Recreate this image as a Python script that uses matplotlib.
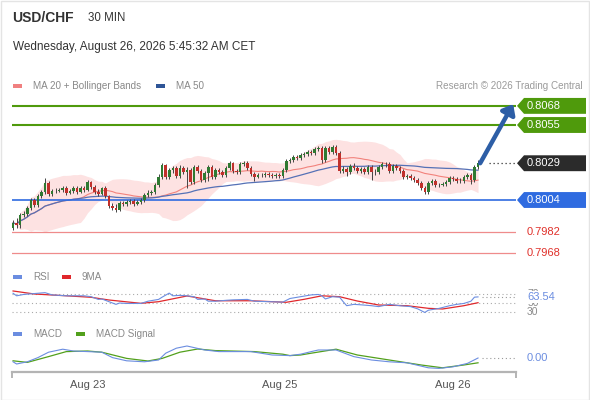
import matplotlib
matplotlib.use("Agg")
import matplotlib.pyplot as plt
from matplotlib.patches import Polygon, Rectangle
from matplotlib.transforms import blended_transform_factory
import numpy as np
import pandas as pd

plt.rcParams['font.family'] = ['Liberation Sans', 'DejaVu Sans']

# ---------------- data ----------------
symbol = "USD/CHF"
timeframe = "30 MIN"
timestamp = "Wednesday, August 26, 2026 5:45:32 AM CET"
credit = "Research \u00a9 2026 Trading Central"

first_open = 0.79850
close = [0.79884, 0.79870, 0.79938, 0.79945, 0.79986, 0.80040, 0.80006, 0.80067, 0.80094, 0.80156,
         0.80081, 0.80101, 0.80101, 0.80108, 0.80122, 0.80088, 0.80101, 0.80122, 0.80094, 0.80122,
         0.80108, 0.80162, 0.80128, 0.80094, 0.80081, 0.80122, 0.80067, 0.79999, 0.79986, 0.79972,
         0.80020, 0.80013, 0.80026, 0.80033, 0.80013, 0.80026, 0.80040, 0.80074, 0.80088, 0.80094,
         0.80142, 0.80196, 0.80278, 0.80196, 0.80244, 0.80258, 0.80203, 0.80258, 0.80230, 0.80244,
         0.80162, 0.80264, 0.80237, 0.80176, 0.80224, 0.80264, 0.80196, 0.80244, 0.80230, 0.80210,
         0.80258, 0.80292, 0.80237, 0.80230, 0.80285, 0.80292, 0.80258, 0.80217, 0.80196, 0.80210,
         0.80210, 0.80217, 0.80210, 0.80203, 0.80210, 0.80203, 0.80244, 0.80305, 0.80312, 0.80332,
         0.80326, 0.80346, 0.80353, 0.80366, 0.80360, 0.80387, 0.80394, 0.80312, 0.80394, 0.80366,
         0.80400, 0.80360, 0.80237, 0.80251, 0.80230, 0.80271, 0.80258, 0.80237, 0.80251, 0.80230,
         0.80264, 0.80230, 0.80230, 0.80264, 0.80285, 0.80285, 0.80237, 0.80271, 0.80258, 0.80237,
         0.80196, 0.80203, 0.80190, 0.80176, 0.80156, 0.80122, 0.80094, 0.80156, 0.80169, 0.80142,
         0.80142, 0.80149, 0.80162, 0.80190, 0.80183, 0.80169, 0.80169, 0.80196, 0.80210, 0.80176,
         0.80264, 0.80290]
high = [0.79904, 0.79918, 0.79952, 0.79965, 0.79999, 0.80054, 0.80054, 0.80081, 0.80108, 0.80190,
        0.80169, 0.80115, 0.80122, 0.80122, 0.80135, 0.80135, 0.80115, 0.80135, 0.80135, 0.80135,
        0.80135, 0.80176, 0.80169, 0.80142, 0.80115, 0.80128, 0.80135, 0.80074, 0.80020, 0.80013,
        0.80033, 0.80033, 0.80040, 0.80047, 0.80047, 0.80040, 0.80054, 0.80088, 0.80108, 0.80108,
        0.80156, 0.80217, 0.80292, 0.80285, 0.80258, 0.80271, 0.80271, 0.80278, 0.80271, 0.80264,
        0.80258, 0.80278, 0.80278, 0.80251, 0.80237, 0.80278, 0.80278, 0.80258, 0.80258, 0.80244,
        0.80271, 0.80305, 0.80298, 0.80251, 0.80298, 0.80305, 0.80305, 0.80271, 0.80230, 0.80224,
        0.80224, 0.80230, 0.80230, 0.80224, 0.80224, 0.80224, 0.80258, 0.80319, 0.80326, 0.80346,
        0.80346, 0.80360, 0.80366, 0.80380, 0.80380, 0.80400, 0.80407, 0.80407, 0.80407, 0.80407,
        0.80414, 0.80414, 0.80373, 0.80271, 0.80264, 0.80285, 0.80292, 0.80271, 0.80264, 0.80264,
        0.80278, 0.80278, 0.80251, 0.80278, 0.80298, 0.80298, 0.80298, 0.80285, 0.80285, 0.80271,
        0.80251, 0.80217, 0.80217, 0.80203, 0.80190, 0.80169, 0.80135, 0.80169, 0.80183, 0.80183,
        0.80156, 0.80162, 0.80176, 0.80203, 0.80203, 0.80196, 0.80190, 0.80210, 0.80224, 0.80224,
        0.80278, 0.80312]
low = [0.79836, 0.79850, 0.79850, 0.79924, 0.79931, 0.79972, 0.79992, 0.79992, 0.80054, 0.80081,
       0.80067, 0.80067, 0.80088, 0.80094, 0.80094, 0.80074, 0.80081, 0.80088, 0.80081, 0.80088,
       0.80094, 0.80101, 0.80115, 0.80081, 0.80067, 0.80074, 0.80054, 0.79986, 0.79972, 0.79958,
       0.79965, 0.79999, 0.79999, 0.80013, 0.79999, 0.80006, 0.80013, 0.80026, 0.80060, 0.80074,
       0.80081, 0.80128, 0.80183, 0.80183, 0.80183, 0.80224, 0.80190, 0.80190, 0.80217, 0.80122,
       0.80149, 0.80149, 0.80224, 0.80162, 0.80162, 0.80169, 0.80183, 0.80183, 0.80217, 0.80196,
       0.80196, 0.80244, 0.80224, 0.80217, 0.80217, 0.80271, 0.80244, 0.80203, 0.80169, 0.80190,
       0.80196, 0.80196, 0.80196, 0.80190, 0.80190, 0.80190, 0.80190, 0.80230, 0.80292, 0.80298,
       0.80312, 0.80312, 0.80332, 0.80339, 0.80346, 0.80346, 0.80373, 0.80292, 0.80298, 0.80353,
       0.80353, 0.80346, 0.80224, 0.80224, 0.80203, 0.80217, 0.80244, 0.80224, 0.80224, 0.80217,
       0.80217, 0.80176, 0.80210, 0.80217, 0.80251, 0.80264, 0.80224, 0.80224, 0.80244, 0.80224,
       0.80183, 0.80183, 0.80176, 0.80162, 0.80142, 0.80108, 0.80081, 0.80081, 0.80142, 0.80128,
       0.80128, 0.80135, 0.80135, 0.80149, 0.80169, 0.80156, 0.80156, 0.80156, 0.80183, 0.80149,
       0.80162, 0.80251]

resistance_levels = [0.8068, 0.8055]
pivot_level = 0.8004
support_levels = [0.7982, 0.7968]
target_level = 0.8068

rsi_idx = [0, 1, 3, 9, 11, 15, 20, 22, 24, 25, 27, 29, 30, 32, 36, 38, 41, 42, 44, 45,
           47, 49, 51, 52, 54, 55, 57, 60, 62, 66, 68, 72, 76, 78, 81, 84, 86, 87, 88, 90,
           92, 93, 94, 96, 98, 101, 103, 106, 109, 112, 114, 116, 117, 120, 123, 125, 127, 129, 130, 131]
rsi_val = [71.6, 66, 69, 73, 68, 66, 66, 64, 58, 59, 53, 47, 50, 49, 49, 54, 58, 63, 72, 66,
           67, 66, 64, 58, 59, 54, 54, 56, 57, 58, 54, 53, 52, 60, 64, 68, 69, 66, 59, 64,
           63, 53, 44, 47, 46, 44, 42, 47, 44, 42, 37, 29, 34, 38, 44, 47, 49, 54, 63, 63.54]
rsi_ma_idx = [0, 6, 15, 22, 27, 36, 41, 49, 53, 57, 67, 77, 82, 87, 92, 97, 103, 111, 117, 121, 127, 131]
rsi_ma_val = [76.7, 70, 66, 62.7, 56.7, 49.3, 52.9, 65.6, 60.4, 55, 55, 51.6, 58.2, 66, 64, 54.4,
              45.6, 44, 38.2, 36.7, 44, 50.7]
rsi_guides = [70, 50, 30]

macd_idx = [0, 1, 4, 7, 10, 14, 17, 21, 25, 28, 32, 37, 41, 43, 46, 49, 51, 54, 58, 67,
            73, 78, 81, 84, 86, 91, 96, 101, 106, 111, 117, 120, 124, 128, 131]
macd_val = [-0.00019, -0.00030, -0.00019, 0.00002, 0.00029, 0.00044, 0.00035, 0.00032, 0.00029, 0.00002,
            -0.00014, -0.00019, -0.00010, 0.00024, 0.00049, 0.00060, 0.00052, 0.00040, 0.00032, 0.00032,
            0.00015, 0.00012, 0.00019, 0.00032, 0.00040, 0.00040, 0.00007, -0.00010, -0.00019, -0.00024,
            -0.00049, -0.00052, -0.00044, -0.00027, 0.00000]
signal_idx = [0, 4, 10, 15, 21, 25, 32, 38, 42, 47, 52, 57, 68, 76, 78, 81, 84, 91, 97, 106,
              115, 121, 127, 131]
signal_val = [-0.00014, -0.00022, 0.00007, 0.00032, 0.00035, 0.00029, -0.00002, -0.00015, -0.00002, 0.00029,
              0.00045, 0.00037, 0.00032, 0.00019, 0.00012, 0.00015, 0.00024, 0.00044, 0.00015, -0.00010,
              -0.00035, -0.00049, -0.00035, -0.00024]

date_ticks = [21, 75, 124]
date_labels = ["Aug 23", "Aug 25", "Aug 26"]

# ---------------- styles ----------------
GREEN_C = '#2f7a32'
RED_C = '#c0302b'
LEVEL_GREEN = '#4f9a0c'
LEVEL_BLUE = '#2f6be0'
LEVEL_RED = '#ef8b8b'
LEVEL_RED_TXT = '#e0302a'
DARK = '#2b2b2b'
IND_BLUE = '#6b8de0'
IND_RED = '#e0282c'
IND_GREEN = '#52a01c'

W, H = 590, 400
fig = plt.figure(figsize=(W / 100, H / 100), dpi=100)
fig.patch.set_facecolor('white')


def fx(px):
    return px / W


def fy(py):
    return 1 - py / H


X0, X1 = 12, 516
AXW = (X1 - X0) / W
ax = fig.add_axes([fx(X0), fy(262), AXW, (262 - 95) / H])
ax_rsi = fig.add_axes([fx(X0), fy(318), AXW, (318 - 285) / H])
ax_macd = fig.add_axes([fx(X0), fy(372), AXW, (372 - 340) / H])

xlim = (-0.3, 141.7)
for a in (ax, ax_rsi, ax_macd):
    a.set_xlim(*xlim)
    a.set_facecolor('none')
ax.set_ylim(0.796184, 0.80754)
ax_rsi.set_ylim(16.7, 90)
ax_macd.set_ylim(-0.0007, 0.0009)
ax.axis('off')
ax_rsi.axis('off')
for s in ('top', 'left', 'right'):
    ax_macd.spines[s].set_visible(False)
ax_macd.spines['bottom'].set_color('#b4b4b4')
ax_macd.spines['bottom'].set_linewidth(1.6)
ax_macd.set_yticks([])
ax_macd.set_xticks(date_ticks)
ax_macd.set_xticklabels(date_labels, fontsize=8, color='#555555')
ax_macd.tick_params(axis='x', which='major', length=0, pad=6)
ax_macd.set_xticks(list(xlim), minor=True)
ax_macd.tick_params(axis='x', which='minor', length=4, width=1.4, color='#b4b4b4', direction='out')

# ---------------- main price panel ----------------
c = np.array(close)
o = np.array([first_open] + close[:-1])
h = np.array(high)
l = np.array(low)
n = len(c)
idx = np.arange(n)

s = pd.Series(c)
ma20 = s.rolling(20, min_periods=1).mean().values
sd20 = s.rolling(20, min_periods=1).std(ddof=0).values
ma50 = s.rolling(50, min_periods=1).mean().values

ax.fill_between(idx, ma20 - 2 * sd20, ma20 + 2 * sd20, color='#fde2e2', lw=0, zorder=1)
ax.plot(idx, ma20, color='#f2827c', lw=0.8, zorder=2)
ax.plot(idx, ma50, color='#5571b6', lw=0.9, zorder=2)

for lv in resistance_levels:
    ax.axhline(lv, color=LEVEL_GREEN, lw=1.5, zorder=2.5)
ax.axhline(pivot_level, color=LEVEL_BLUE, lw=1.2, zorder=2.5)
for lv in support_levels:
    ax.axhline(lv, color=LEVEL_RED, lw=0.9, zorder=2.5)

up = c >= o
colors = np.where(up, GREEN_C, RED_C)
ax.vlines(idx, l, h, color='#444444', lw=0.7, zorder=3)
ax.bar(idx, np.maximum(np.abs(c - o), 0.00003), bottom=np.minimum(c, o), width=0.72,
       color=colors, lw=0, zorder=4)

# last price dotted extension
ax.hlines(c[-1], n + 2, xlim[1], colors='#333333', linestyles=(0, (1, 2.2)), lw=0.9, zorder=3)

# forecast arrow
ax.annotate('', xy=(xlim[1] - 0.8, target_level + 0.00012), xytext=(n - 0.4, c[-1]),
            arrowprops=dict(arrowstyle='-|>,head_length=0.55,head_width=0.45', lw=3.2,
                            color='#2d5ea6', shrinkA=0, shrinkB=0), zorder=6)

trans = blended_transform_factory(ax.transAxes, ax.transData)
HH = 0.00054


def level_box(y, text, fc):
    pts = [(1.002, y), (1.0159, y + HH), (1.1389, y + HH), (1.1389, y - HH), (1.0159, y - HH)]
    ax.add_patch(Polygon(pts, closed=True, transform=trans, facecolor=fc, edgecolor='none',
                         clip_on=False, zorder=5))
    ax.text(1.0218, y, text, transform=trans, color='white', fontsize=8, va='center',
            ha='left', clip_on=False, zorder=6)


for lv in resistance_levels:
    level_box(lv, f"{lv:.4f}", LEVEL_GREEN)
level_box(c[-1], f"{c[-1]:.4f}", DARK)
level_box(pivot_level, f"{pivot_level:.4f}", LEVEL_BLUE)
for lv in support_levels:
    ax.text(1.0218, lv, f"{lv:.4f}", transform=trans, color=LEVEL_RED_TXT, fontsize=8,
            va='center', ha='left', clip_on=False)

# ---------------- RSI panel ----------------
for g in rsi_guides:
    ax_rsi.axhline(g, color='#aaaaaa', lw=0.8, linestyle=(0, (1, 2.5)), zorder=1)
ax_rsi.plot(rsi_idx, rsi_val, color=IND_BLUE, lw=0.8, zorder=3)
ax_rsi.plot(rsi_ma_idx, rsi_ma_val, color=IND_RED, lw=0.9, zorder=2)
ax_rsi.hlines(rsi_val[-1], rsi_idx[-1] + 1, xlim[1], colors='#999999',
              linestyles=(0, (1, 2.5)), lw=0.8)
trans_r = blended_transform_factory(ax_rsi.transAxes, ax_rsi.transData)
for g in rsi_guides:
    ax_rsi.text(1.022, g, str(g), transform=trans_r, color='#8a8a8a', fontsize=7.5,
                va='center', ha='left', clip_on=False)
ax_rsi.text(1.022, rsi_val[-1], f"{rsi_val[-1]:.2f}", transform=trans_r, color=IND_BLUE,
            fontsize=8, va='center', ha='left', clip_on=False,
            bbox=dict(facecolor='white', edgecolor='none', pad=0.6))

# ---------------- MACD panel ----------------
ax_macd.plot(macd_idx, macd_val, color=IND_BLUE, lw=0.8, zorder=3)
ax_macd.plot(signal_idx, signal_val, color=IND_GREEN, lw=0.9, zorder=2)
ax_macd.hlines(macd_val[-1], macd_idx[-1] + 1, xlim[1], colors='#999999',
               linestyles=(0, (1, 2.5)), lw=0.8)
trans_m = blended_transform_factory(ax_macd.transAxes, ax_macd.transData)
ax_macd.text(1.022, macd_val[-1], f"{abs(macd_val[-1]):.2f}", transform=trans_m, color=IND_BLUE,
             fontsize=8, va='center', ha='left', clip_on=False)

# ---------------- header & legends ----------------
fig.text(fx(12), fy(18), symbol, fontsize=10, fontweight='bold', color='#333333', va='center')
fig.text(fx(88), fy(18), timeframe, fontsize=8.3, color='#333333', va='center')
fig.text(fx(13), fy(47), timestamp, fontsize=8.5, color='#333333', va='center')


def legend_item(px, py, color, label):
    fig.add_artist(Rectangle((fx(px), fy(py + 2)), 9 / W, 4 / H, transform=fig.transFigure,
                             facecolor=color, edgecolor='none'))
    fig.text(fx(px + 20), fy(py), label, fontsize=7.1, color='#888888', va='center')


legend_item(13, 86, '#f08080', 'MA 20 + Bollinger Bands')
legend_item(156, 86, '#2f5597', 'MA 50')
fig.text(fx(583), fy(86), credit, fontsize=7.1, color='#9a9a9a', va='center', ha='right')
legend_item(13, 277, IND_BLUE, 'RSI')
legend_item(62, 277, IND_RED, '9MA')
legend_item(13, 334, IND_BLUE, 'MACD')
legend_item(76, 334, IND_GREEN, 'MACD Signal')

# figure border
fig.add_artist(Rectangle((0.5 / W, 0.5 / H), (W - 1.5) / W, (H - 1.5) / H, transform=fig.transFigure,
                         facecolor='none', edgecolor='#e4e4e4', lw=1))

fig.savefig('out.png', dpi=100, facecolor='white')
